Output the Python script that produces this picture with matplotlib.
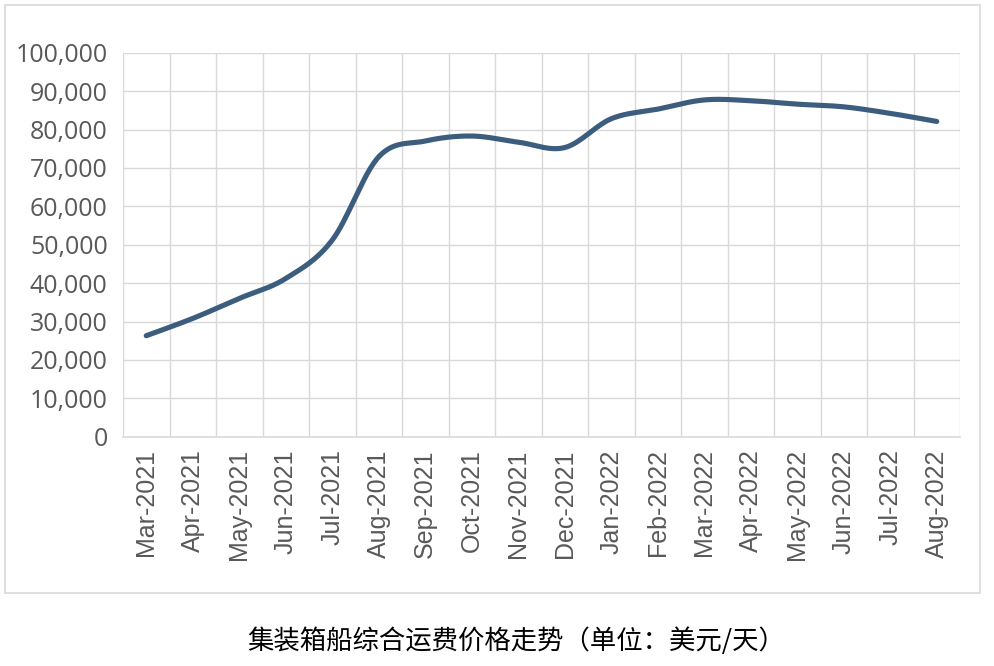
import numpy as np
import matplotlib
matplotlib.use("Agg")
import matplotlib.pyplot as plt
from matplotlib.patches import Rectangle

plt.rcParams['font.family'] = ['Noto Sans CJK SC', 'DejaVu Sans']

months = ["Mar-2021", "Apr-2021", "May-2021", "Jun-2021", "Jul-2021", "Aug-2021",
          "Sep-2021", "Oct-2021", "Nov-2021", "Dec-2021", "Jan-2022", "Feb-2022",
          "Mar-2022", "Apr-2022", "May-2022", "Jun-2022", "Jul-2022", "Aug-2022"]
values = [26300, 30800, 36000, 41200, 51200, 72900, 77000, 78300, 76700, 75300,
          82800, 85300, 87700, 87500, 86600, 85900, 84200, 82100]
yticks = [0, 10000, 20000, 30000, 40000, 50000, 60000, 70000, 80000, 90000, 100000]
title = "集装箱船综合运费价格走势（单位：美元/天）"


def smooth(xs, ys, n=30):
    # Catmull-Rom style Bezier smoothing (like Excel's smoothed line)
    xs = np.asarray(xs, float); ys = np.asarray(ys, float)
    px = np.concatenate([[xs[0]], xs, [xs[-1]]])
    py = np.concatenate([[ys[0]], ys, [ys[-1]]])
    ox, oy = [], []
    t = np.linspace(0, 1, n)
    for i in range(1, len(px) - 2):
        p0 = np.array([px[i], py[i]]); p3 = np.array([px[i + 1], py[i + 1]])
        c1 = p0 + (np.array([px[i + 1], py[i + 1]]) - np.array([px[i - 1], py[i - 1]])) / 6
        c2 = p3 - (np.array([px[i + 2], py[i + 2]]) - np.array([px[i], py[i]])) / 6
        b = ((1 - t) ** 3)[:, None] * p0 + (3 * (1 - t) ** 2 * t)[:, None] * c1 \
            + (3 * (1 - t) * t ** 2)[:, None] * c2 + (t ** 3)[:, None] * p3
        ox.extend(b[:, 0]); oy.extend(b[:, 1])
    return np.array(ox), np.array(oy)


W, H = 994, 666
fig = plt.figure(figsize=(W / 100, H / 100), dpi=100)
fig.patch.set_facecolor("white")

# outer chart border
fig.patches.append(Rectangle((5 / W, 1 - 593 / H), 975 / W, 588 / H,
                             transform=fig.transFigure, fill=False,
                             edgecolor="#D9D9D9", linewidth=1.2))

ax = fig.add_axes([123 / W, 1 - 436.7 / H, (960 - 123) / W, (436.7 - 52.7) / H])
n = len(months)
x = np.arange(n)
sx, sy = smooth(x, values)
ax.plot(sx, sy, color="#3C5D7E", linewidth=3.7, solid_capstyle="round", zorder=3)

ax.set_xlim(-0.5, n - 0.5)
ax.set_ylim(0, 100000)
ax.set_yticks(yticks)
ax.set_yticklabels([f"{v:,}" for v in yticks], family=["Open Sans", "DejaVu Sans"])
ax.set_xticks(x)
ax.set_xticklabels(months, rotation=90, family=["Liberation Sans", "DejaVu Sans"])

# gridlines
for b in np.arange(-0.5, n, 1.0):
    ax.axvline(b, color="#D9D9D9", linewidth=1.0, zorder=1)
for v in yticks[1:]:
    ax.axhline(v, color="#D9D9D9", linewidth=1.0, zorder=1)

for s in ["top", "right", "left"]:
    ax.spines[s].set_visible(False)
ax.spines["bottom"].set_color("#D9D9D9")
ax.spines["bottom"].set_linewidth(1.2)
ax.tick_params(axis="both", length=0, colors="#595959", labelsize=18)
ax.tick_params(axis="y", pad=11)
ax.tick_params(axis="x", pad=9)

fig.text(516 / W, 1 - 641 / H, title, ha="center", va="center",
         fontsize=19, color="#000000")

fig.savefig("out.png", dpi=100, facecolor="white")
